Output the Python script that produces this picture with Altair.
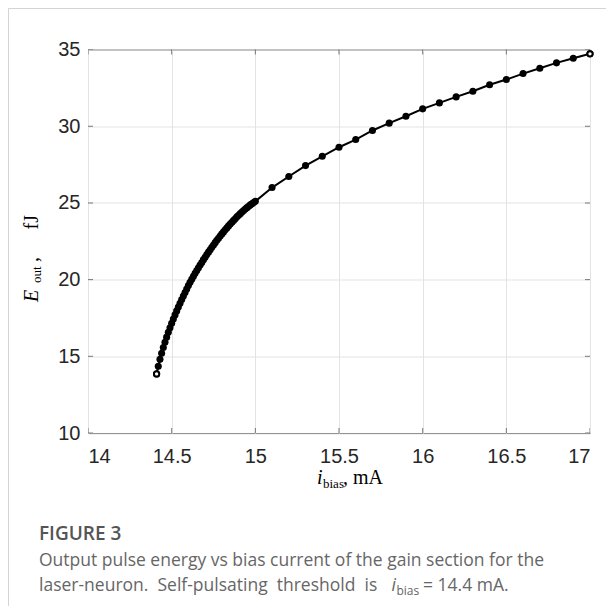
import altair as alt
import pandas as pd

# --- data ---
i_bias = [14.41, 14.42, 14.43, 14.44, 14.45, 14.46, 14.47, 14.48, 14.49, 14.50,
          14.51, 14.52, 14.53, 14.54, 14.55, 14.56, 14.57, 14.58, 14.59, 14.60,
          14.61, 14.62, 14.63, 14.64, 14.65, 14.66, 14.67, 14.68, 14.69, 14.70,
          14.71, 14.72, 14.73, 14.74, 14.75, 14.76, 14.77, 14.78, 14.79, 14.80,
          14.81, 14.82, 14.83, 14.84, 14.85, 14.86, 14.87, 14.88, 14.89, 14.90,
          14.91, 14.92, 14.93, 14.94, 14.95, 14.96, 14.97, 14.98, 14.99, 15.00,
          15.1, 15.2, 15.3, 15.4, 15.5, 15.6, 15.7, 15.8, 15.9, 16.0,
          16.1, 16.2, 16.3, 16.4, 16.5, 16.6, 16.7, 16.8, 16.9, 17.0]
e_out = [13.85, 14.35, 14.80, 15.20, 15.57, 15.92, 16.25, 16.56, 16.86, 17.15,
         17.43, 17.70, 17.96, 18.21, 18.46, 18.70, 18.93, 19.16, 19.39, 19.61,
         19.82, 20.02, 20.22, 20.41, 20.59, 20.77, 20.95, 21.12, 21.30, 21.46,
         21.63, 21.79, 21.95, 22.11, 22.26, 22.41, 22.56, 22.70, 22.84, 22.98,
         23.11, 23.25, 23.37, 23.50, 23.62, 23.74, 23.86, 23.97, 24.09, 24.19,
         24.30, 24.40, 24.50, 24.60, 24.69, 24.78, 24.87, 24.95, 25.03, 25.10,
         26.0, 26.72, 27.43, 28.04, 28.63, 29.13, 29.72, 30.2, 30.65, 31.13,
         31.52, 31.91, 32.28, 32.7, 33.04, 33.43, 33.78, 34.13, 34.43, 34.72]

x_ticks = [14, 14.5, 15, 15.5, 16, 16.5, 17]
y_ticks = [10, 15, 20, 25, 30, 35]

x_title = ["i", "bias", ", mA"]
y_title = ["E", "out", ",", "fJ"]
fig_label = ["FIGURE 3"]
caption_1 = ["Output pulse energy vs bias current of the gain section for the"]
caption_2 = ["laser-neuron.\u00a0 Self-pulsating\u00a0 threshold\u00a0 is", "i", "bias", "= 14.4 mA."]

df = pd.DataFrame({"i": i_bias, "E": e_out})
ends = df.iloc[[0, len(df) - 1]]
xt = pd.DataFrame({"v": x_ticks})
yt = pd.DataFrame({"v": y_ticks})

W, H = 502, 383.5
xs = alt.Scale(domain=[14, 17], nice=False, zero=False)
ys = alt.Scale(domain=[10, 35], nice=False, zero=False)

AX = dict(grid=True, gridColor="#e3e3e3", domain=False, ticks=False,
          labelFont="Liberation Sans", labelFontSize=20, labelColor="#262626",
          title=None, format="~g")

base = alt.Chart(df)
line = base.mark_line(color="black", strokeWidth=2).encode(
    x=alt.X("i:Q", scale=xs, axis=alt.Axis(values=x_ticks, labelPadding=13, **AX)),
    y=alt.Y("E:Q", scale=ys, axis=alt.Axis(values=y_ticks, labelPadding=8, **AX)),
)
pts = base.mark_point(filled=True, color="black", size=50, opacity=1).encode(x="i:Q", y="E:Q")
endpts = alt.Chart(ends).mark_point(filled=True, fill="white", stroke="black",
                                    strokeWidth=2, size=28, opacity=1).encode(x="i:Q", y="E:Q")

tick_c = "#444"
t_bot = alt.Chart(xt).mark_tick(orient="vertical", size=10, thickness=1, color=tick_c, clip=True).encode(
    x="v:Q", y=alt.datum(10))
t_top = alt.Chart(xt).mark_tick(orient="vertical", size=10, thickness=1, color=tick_c, clip=True).encode(
    x="v:Q", y=alt.datum(35))
t_left = alt.Chart(yt).mark_tick(orient="horizontal", size=10, thickness=1, color=tick_c, clip=True).encode(
    y="v:Q", x=alt.datum(14))
t_right = alt.Chart(yt).mark_tick(orient="horizontal", size=10, thickness=1, color=tick_c, clip=True).encode(
    y="v:Q", x=alt.datum(17))


def txt(s, x, y, size, font="Liberation Serif", style="normal", angle=0, color="black",
        weight="normal"):
    kw = dict(align="left", baseline="alphabetic", fontSize=size, font=font,
              fontStyle=style, color=color, fontWeight=weight)
    if angle:
        kw["angle"] = angle
    return alt.Chart(pd.DataFrame({"t": [s]})).mark_text(**kw).encode(
        text="t:N", x=alt.value(x), y=alt.value(y))


CF = "Open Sans"
CC = "#666"
CS = 17.5
L1, L2 = 516.5, 541.5
labels = [
    txt(x_title[0], 229, 434.5, 20, style="italic"),
    txt(x_title[1], 235, 438, 13),
    txt(x_title[2], 255, 434.5, 20),
    txt(y_title[0], -50, 252.5, 20, style="italic", angle=270),
    txt(y_title[1], -47, 233.5, 13, angle=270),
    txt(y_title[2], -50, 212.5, 20, angle=270),
    txt(y_title[3], -50, 180, 20, angle=270),
    txt(fig_label[0], -49, 490.5, 19, font=CF, color="#555", weight=600),
    txt(caption_1[0], -49, L1, CS, font=CF, color=CC),
    txt(caption_2[0], -49, L2, CS, font=CF, color=CC),
    txt(caption_2[1], 303.5, L2, CS, font=CF, color=CC, style="italic"),
    txt(caption_2[2], 308.5, L2 + 4, 12, font=CF, color=CC),
    txt(caption_2[3], 335, L2, CS, font=CF, color=CC),
]

border_v = alt.Chart(pd.DataFrame({"a": [0]})).mark_rule(color="#d4d4d4", strokeWidth=1).encode(
    x=alt.value(-79.5), y=alt.value(-41), y2=alt.value(H + 200))
border_h = alt.Chart(pd.DataFrame({"a": [0]})).mark_rule(color="#d4d4d4", strokeWidth=1).encode(
    x=alt.value(-79.5), x2=alt.value(W + 60), y=alt.value(-41))

chart = alt.layer(
    line, t_bot, t_top, t_left, t_right, pts, endpts, border_v, border_h, *labels
).properties(
    width=W, height=H,
    autosize=alt.AutoSizeParams(type="none"),
    padding={"left": 80, "top": 41.5, "right": 16, "bottom": 173},
    background="white",
).configure_view(stroke="#444", strokeWidth=1)

chart.save("out.html", embed_options={"renderer": "svg", "actions": False})
